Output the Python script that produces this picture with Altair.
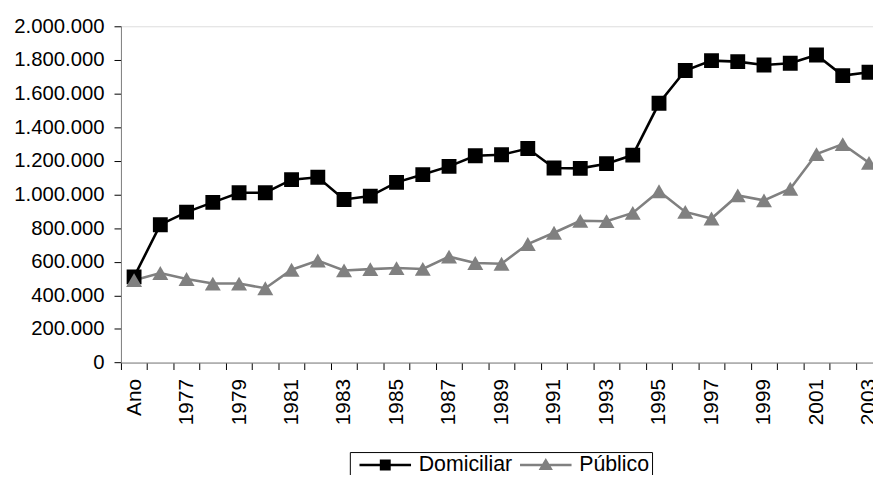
import altair as alt
import pandas as pd

categories = ["Ano", "1976", "1977", "1978", "1979", "1980", "1981", "1982", "1983",
              "1984", "1985", "1986", "1987", "1988", "1989", "1990", "1991", "1992",
              "1993", "1994", "1995", "1996", "1997", "1998", "1999", "2000", "2001",
              "2002", "2003"]

domiciliar = [510000, 820000, 895000, 953000, 1010000, 1010000, 1088000, 1102000, 970000,
              990000, 1072000, 1118000, 1167000, 1230000, 1236000, 1273000, 1157000, 1155000,
              1183000, 1234000, 1542000, 1737000, 1796000, 1790000, 1770000, 1780000, 1829000,
              1707000, 1727000]

publico = [490000, 533000, 497000, 470000, 470000, 442000, 552000, 607000, 548000,
           556000, 562000, 557000, 630000, 592000, 588000, 705000, 772000, 843000,
           841000, 890000, 1019000, 896000, 857000, 994000, 965000, 1034000, 1240000,
           1299000, 1188000]

series_names = ["Domiciliar", "Público"]
series_colors = ["black", "#808080"]
y_ticks = [0, 200000, 400000, 600000, 800000, 1000000, 1200000, 1400000, 1600000, 1800000, 2000000]

rows = []
for name, vals in zip(series_names, [domiciliar, publico]):
    for c, v in zip(categories, vals):
        rows.append({"cat": c, "series": name, "value": v})
df = pd.DataFrame(rows)

FONT = "Liberation Sans"
PATH_D = "M-2.6,-0.12H2.6V0.12H-2.6Z M-0.55,-0.55H0.55V0.55H-0.55Z"
PATH_P = "M-2.6,-0.12H2.6V0.12H-2.6Z M0,-0.7L0.72,0.5H-0.72Z"
NBSP2 = "\u00a0\u00a0"

legend = alt.Legend(
    title=" ", titleOrient="bottom", titleFontSize=20, titlePadding=4,
    orient="none", legendX=231, legendY=429.7, direction="horizontal",
    symbolSize=400, symbolOffset=23, labelOffset=23, columnPadding=-5,
    padding=2, strokeColor="black", fillColor="white",
    labelFont=FONT, labelFontSize=21.5, labelColor="black",
    labelExpr=f"datum.label == 'Público' ? datum.label + '{NBSP2}' : datum.label",
    symbolType=alt.ExprRef(f"datum.value === 'Domiciliar' ? '{PATH_D}' : '{PATH_P}'"),
    symbolFillColor=alt.ExprRef("datum.value === 'Domiciliar' ? 'black' : '#808080'"),
    symbolStrokeColor="transparent", symbolStrokeWidth=0, symbolOpacity=1,
)

x = alt.X("cat:N", sort=categories,
          scale=alt.Scale(type="band", domain=categories, range=[0, 768.2],
                          paddingInner=0, paddingOuter=0),
          axis=alt.Axis(title=None, labelAngle=-90, tickBand="extent",
                        labelExpr="datum.value == 'Ano' || toNumber(datum.value) % 2 == 1 ? datum.label : ''",
                        labelFont=FONT, labelFontSize=21, labelColor="black",
                        domainColor="#808080", tickColor="black", tickSize=7,
                        labelPadding=9, grid=False, labelOverlap=False))

y = alt.Y("value:Q",
          scale=alt.Scale(domain=[0, 2000000], nice=False, zero=True),
          axis=alt.Axis(title=None, values=y_ticks, grid=False,
                        labelExpr="replace(replace(format(datum.value, ','), ',', '.'), ',', '.')",
                        labelFont=FONT, labelFontSize=20.5, labelColor="black",
                        domainColor="#808080", tickColor="black", tickSize=7,
                        labelPadding=10))

color = alt.Color("series:N", sort=series_names,
                  scale=alt.Scale(domain=series_names, range=series_colors),
                  legend=legend)

base = alt.Chart(df)

lines = base.mark_line(strokeWidth=2.6, clip=True).encode(x=x, y=y, color=color)

pts_d = base.transform_filter(alt.datum.series == "Domiciliar").mark_point(
    filled=True, opacity=1, clip=True, shape="square", size=225
).encode(x=x, y=y, color=color)

pts_p = base.transform_filter(alt.datum.series == "Público").mark_point(
    filled=True, opacity=1, clip=True, shape="triangle-up", size=260
).encode(x=x, y=y, color=color)

chart = alt.layer(lines, pts_d, pts_p).properties(
    width=759, height=339.4,
    autosize=alt.AutoSizeParams(type="none"),
    padding={"left": 114, "top": 16.3, "right": 0, "bottom": 111.3},
).configure_view(stroke=None).configure(background="white")

chart.save("out.html", embed_options={"renderer": "svg", "actions": False})
